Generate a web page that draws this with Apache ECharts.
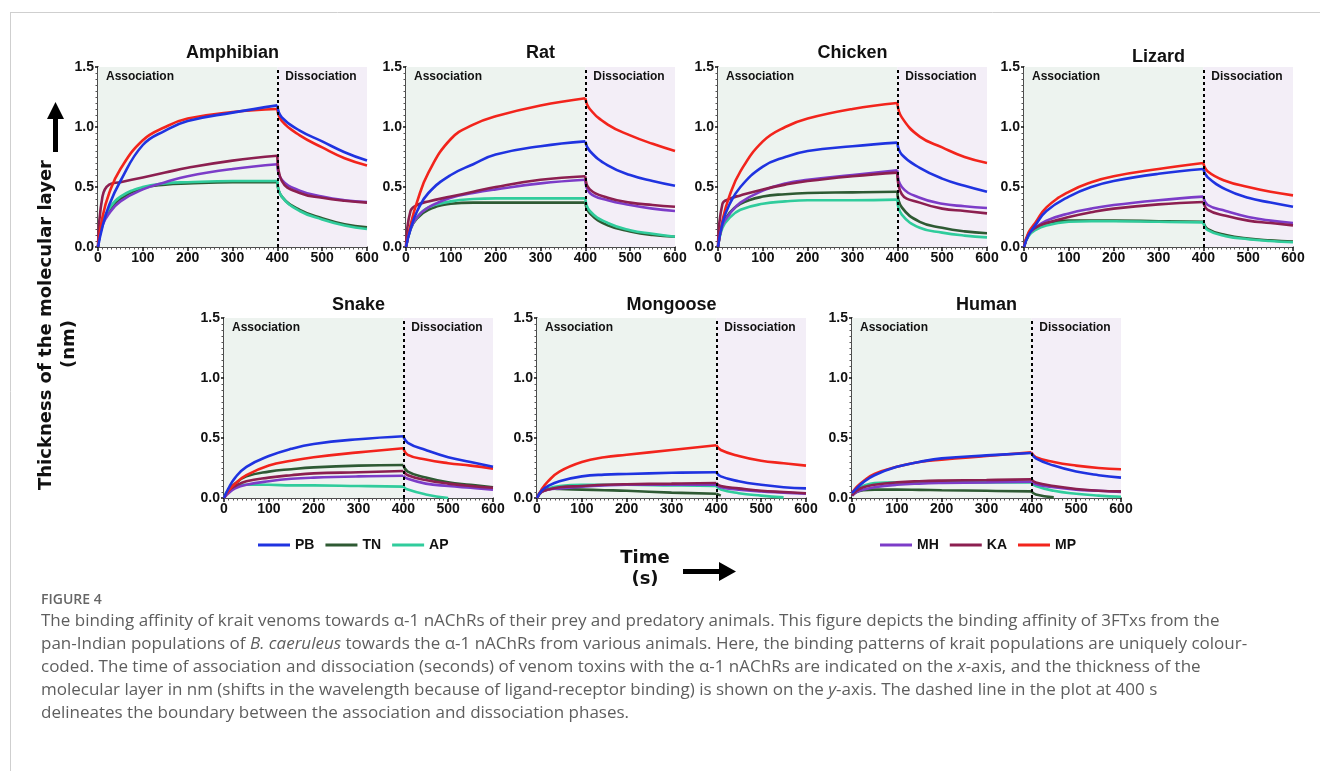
<!DOCTYPE html>
<html>
<head>
<meta charset="utf-8">
<script src="https://cdn.jsdelivr.net/npm/echarts@6/dist/echarts.min.js"></script>
<style>html,body{margin:0;padding:0;background:#fff;}#c{width:1320px;height:771px;}</style>
</head>
<body>
<div id="c"></div>
<script>
// ---------------- DATA ----------------
const TIME = [0, 10, 25, 50, 100, 150, 200, 300, 400, 410, 450, 500, 550, 600];
const KEYS = ['PB', 'TN', 'AP', 'MH', 'KA', 'MP'];
const PANEL_TITLES = ['Amphibian', 'Rat', 'Chicken', 'Lizard', 'Snake', 'Mongoose', 'Human'];
const X_TICKS = [0, 100, 200, 300, 400, 500, 600];
const Y_TICKS = [0, 0.5, 1.0, 1.5];
const PHASE_SPLIT = 400;

const amphibian = {
  PB: [0, 0.17, 0.35, 0.55, 0.85, 0.97, 1.05, 1.12, 1.18, 1.08, 0.97, 0.88, 0.79, 0.72],
  TN: [0, 0.20, 0.30, 0.40, 0.49, 0.52, 0.53, 0.54, 0.54, 0.42, 0.31, 0.24, 0.19, 0.165],
  AP: [0, 0.20, 0.32, 0.42, 0.50, 0.53, 0.54, 0.55, 0.55, 0.42, 0.30, 0.23, 0.18, 0.15],
  MH: [0, 0.18, 0.28, 0.38, 0.48, 0.54, 0.59, 0.65, 0.69, 0.56, 0.47, 0.42, 0.39, 0.375],
  KA: [0, 0.42, 0.52, 0.54, 0.58, 0.62, 0.66, 0.72, 0.76, 0.55, 0.45, 0.41, 0.385, 0.37],
  MP: [0, 0.25, 0.45, 0.65, 0.89, 1.00, 1.07, 1.125, 1.15, 1.05, 0.93, 0.83, 0.74, 0.68]
};
const rat = {
  PB: [0, 0.15, 0.30, 0.45, 0.60, 0.69, 0.77, 0.84, 0.88, 0.80, 0.68, 0.60, 0.55, 0.51],
  TN: [0, 0.15, 0.24, 0.31, 0.36, 0.37, 0.37, 0.37, 0.37, 0.28, 0.18, 0.13, 0.10, 0.085],
  AP: [0, 0.15, 0.25, 0.33, 0.38, 0.40, 0.405, 0.405, 0.405, 0.30, 0.20, 0.14, 0.11, 0.085],
  MH: [0, 0.15, 0.25, 0.33, 0.41, 0.45, 0.48, 0.53, 0.56, 0.45, 0.39, 0.35, 0.32, 0.30],
  KA: [0, 0.30, 0.35, 0.38, 0.42, 0.46, 0.50, 0.56, 0.59, 0.48, 0.41, 0.37, 0.35, 0.335],
  MP: [0, 0.18, 0.38, 0.62, 0.90, 1.02, 1.09, 1.18, 1.24, 1.15, 1.02, 0.93, 0.86, 0.80]
};
const chicken = {
  PB: [0, 0.20, 0.35, 0.50, 0.67, 0.75, 0.80, 0.84, 0.87, 0.77, 0.66, 0.57, 0.51, 0.46],
  TN: [0, 0.18, 0.28, 0.36, 0.42, 0.44, 0.45, 0.455, 0.46, 0.33, 0.21, 0.16, 0.13, 0.115],
  AP: [0, 0.16, 0.24, 0.31, 0.36, 0.38, 0.39, 0.39, 0.395, 0.27, 0.16, 0.12, 0.095, 0.08],
  MH: [0, 0.18, 0.27, 0.37, 0.47, 0.53, 0.56, 0.60, 0.64, 0.50, 0.41, 0.36, 0.34, 0.325],
  KA: [0, 0.36, 0.40, 0.43, 0.48, 0.52, 0.55, 0.59, 0.62, 0.44, 0.37, 0.32, 0.30, 0.28],
  MP: [0, 0.22, 0.42, 0.63, 0.88, 1.00, 1.07, 1.15, 1.20, 1.08, 0.92, 0.83, 0.75, 0.70]
};
const lizard = {
  PB: [0, 0.10, 0.18, 0.30, 0.42, 0.50, 0.55, 0.61, 0.65, 0.58, 0.48, 0.41, 0.37, 0.335],
  TN: [0, 0.10, 0.16, 0.20, 0.22, 0.22, 0.22, 0.215, 0.21, 0.15, 0.10, 0.07, 0.055, 0.045],
  AP: [0, 0.09, 0.14, 0.18, 0.21, 0.215, 0.215, 0.21, 0.205, 0.14, 0.09, 0.065, 0.05, 0.04],
  MH: [0, 0.10, 0.16, 0.22, 0.28, 0.32, 0.35, 0.39, 0.42, 0.35, 0.30, 0.25, 0.22, 0.20],
  KA: [0, 0.11, 0.16, 0.20, 0.25, 0.29, 0.32, 0.355, 0.375, 0.31, 0.26, 0.22, 0.20, 0.18],
  MP: [0, 0.12, 0.20, 0.33, 0.46, 0.54, 0.59, 0.65, 0.70, 0.63, 0.55, 0.50, 0.46, 0.43]
};
const snake = {
  PB: [0, 0.08, 0.17, 0.26, 0.35, 0.41, 0.45, 0.49, 0.515, 0.46, 0.40, 0.34, 0.30, 0.26],
  TN: [0, 0.06, 0.12, 0.18, 0.22, 0.24, 0.255, 0.27, 0.275, 0.22, 0.17, 0.13, 0.11, 0.09],
  AP: [0, 0.07, 0.10, 0.11, 0.11, 0.105, 0.105, 0.10, 0.095, 0.07, 0.03, 0.0, null, null],
  MH: [0, 0.04, 0.08, 0.11, 0.14, 0.16, 0.17, 0.18, 0.185, 0.16, 0.12, 0.10, 0.085, 0.07],
  KA: [0, 0.06, 0.10, 0.14, 0.17, 0.19, 0.205, 0.215, 0.225, 0.19, 0.15, 0.12, 0.10, 0.085],
  MP: [0, 0.06, 0.12, 0.19, 0.27, 0.31, 0.34, 0.38, 0.415, 0.36, 0.32, 0.29, 0.27, 0.245]
};
const mongoose = {
  PB: [0, 0.06, 0.10, 0.14, 0.18, 0.195, 0.20, 0.21, 0.215, 0.18, 0.14, 0.11, 0.09, 0.08],
  TN: [0, 0.06, 0.08, 0.075, 0.07, 0.065, 0.06, 0.045, 0.035, 0.02, null, null, null, null],
  AP: [0, 0.05, 0.08, 0.10, 0.11, 0.11, 0.11, 0.105, 0.10, 0.07, 0.04, 0.02, 0.005, null],
  MH: [0, 0.05, 0.07, 0.08, 0.095, 0.105, 0.11, 0.11, 0.11, 0.09, 0.07, 0.055, 0.045, 0.035],
  KA: [0, 0.05, 0.07, 0.09, 0.10, 0.11, 0.115, 0.12, 0.125, 0.10, 0.08, 0.06, 0.05, 0.04],
  MP: [0, 0.07, 0.14, 0.22, 0.30, 0.34, 0.36, 0.40, 0.44, 0.40, 0.35, 0.31, 0.29, 0.27]
};
const human = {
  PB: [0.04, 0.08, 0.13, 0.19, 0.26, 0.30, 0.33, 0.355, 0.375, 0.33, 0.27, 0.22, 0.19, 0.17],
  TN: [0.02, 0.05, 0.065, 0.07, 0.07, 0.068, 0.065, 0.06, 0.055, 0.03, 0.005, null, null, null],
  AP: [0.03, 0.07, 0.10, 0.125, 0.13, 0.13, 0.13, 0.13, 0.13, 0.10, 0.06, 0.035, 0.02, 0.01],
  MH: [0.02, 0.05, 0.07, 0.09, 0.11, 0.12, 0.125, 0.13, 0.135, 0.115, 0.09, 0.07, 0.06, 0.05],
  KA: [0.02, 0.06, 0.09, 0.11, 0.13, 0.14, 0.145, 0.15, 0.155, 0.13, 0.10, 0.075, 0.06, 0.055],
  MP: [0.04, 0.09, 0.14, 0.20, 0.26, 0.30, 0.32, 0.35, 0.38, 0.34, 0.30, 0.27, 0.25, 0.24]
};
const PANEL_DATA = [amphibian, rat, chicken, lizard, snake, mongoose, human];

const CAPTION_LABEL = 'FIGURE 4';
const CAPTION_LINES = [
  '{n|The binding affinity of krait venoms towards α-1 nAChRs of their prey and predatory animals. This figure depicts the binding affinity of 3FTxs from the}',
  '{n|pan-Indian populations of }{i|B. caeruleus}{n| towards the α-1 nAChRs from various animals. Here, the binding patterns of krait populations are uniquely colour-}',
  '{n|coded. The time of association and dissociation (seconds) of venom toxins with the α-1 nAChRs are indicated on the }{i|x}{n|-axis, and the thickness of the}',
  '{n|molecular layer in nm (shifts in the wavelength because of ligand-receptor binding) is shown on the }{i|y}{n|-axis. The dashed line in the plot at 400 s}',
  '{n|delineates the boundary between the association and dissociation phases.}'
];

// ---------------- STYLE / LAYOUT ----------------
const COLORS = { PB: '#1f33e0', TN: '#2e5a33', AP: '#30cc9c', MH: '#7c3cc8', KA: '#8c1f50', MP: '#f2241c' };
const DRAW_ORDER = ['TN', 'AP', 'MH', 'KA', 'MP', 'PB'];
const GRID_POS = [[98, 67], [406, 67], [718, 67], [1024, 67], [224, 318], [537, 318], [852, 318]];
const GRID_W = 269, GRID_H = 180;
const TITLE_Y = [53, 53, 53, 57, 305, 305, 305];
const FONT = '"Liberation Sans", Arial, sans-serif';
const AXT_FONT = 'bold 18px "DejaVu Sans", sans-serif';

const grids = [], xAxes = [], yAxes = [], series = [], graphics = [];

GRID_POS.forEach((p, i) => {
  grids.push({ left: p[0], top: p[1], width: GRID_W, height: GRID_H, containLabel: false });
  xAxes.push({
    gridIndex: i, type: 'value', min: X_TICKS[0], max: X_TICKS[X_TICKS.length - 1], interval: X_TICKS[1] - X_TICKS[0],
    axisLine: { show: true, onZero: false, lineStyle: { color: '#111', width: 1.5 } },
    axisTick: { show: true, length: 4, lineStyle: { color: '#111', width: 1.5 } },
    minorTick: { show: true, splitNumber: 10, length: 2.5, lineStyle: { color: '#555', width: 1 } },
    splitLine: { show: false }, minorSplitLine: { show: false },
    axisLabel: { fontWeight: 'bold', fontSize: 14, color: '#111', margin: 4, fontFamily: FONT }
  });
  yAxes.push({
    gridIndex: i, type: 'value', min: Y_TICKS[0], max: Y_TICKS[Y_TICKS.length - 1], interval: Y_TICKS[1] - Y_TICKS[0],
    axisLine: { show: true, onZero: false, lineStyle: { color: '#111', width: 1.5 } },
    axisTick: { show: true, length: 3, lineStyle: { color: '#111', width: 1.5 } },
    minorTick: { show: true, splitNumber: 10, length: 2.5, lineStyle: { color: '#555', width: 1 } },
    splitLine: { show: false }, minorSplitLine: { show: false },
    axisLabel: { fontWeight: 'bold', fontSize: 14, color: '#111', margin: 4, fontFamily: FONT, formatter: v => v.toFixed(1) }
  });

  const lbl = { show: true, position: 'insideTopLeft', distance: 5, offset: [3, -1], color: '#111', fontWeight: 'bold', fontSize: 12, fontFamily: FONT };
  series.push({
    type: 'line', name: 'bg' + i, xAxisIndex: i, yAxisIndex: i, data: [], silent: true, z: 1,
    markArea: {
      silent: true,
      label: lbl,
      data: [
        [{ name: 'Association', xAxis: X_TICKS[0], itemStyle: { color: '#edf3ef' } }, { xAxis: PHASE_SPLIT }],
        [{ name: 'Dissociation', xAxis: PHASE_SPLIT, itemStyle: { color: '#f3eef7' } }, { xAxis: X_TICKS[X_TICKS.length - 1] }]
      ]
    }
  });

  const pd = PANEL_DATA[i];
  DRAW_ORDER.forEach(k => {
    const vals = pd[k];
    const assoc = [], diss = [];
    TIME.forEach((t, j) => {
      if (vals[j] == null) return;
      if (t <= PHASE_SPLIT) assoc.push([t, vals[j]]);
      if (t >= PHASE_SPLIT) diss.push([t, vals[j]]);
    });
    [assoc, diss].forEach(d => {
      series.push({
        type: 'line', name: k, xAxisIndex: i, yAxisIndex: i, data: d, smooth: 0.45,
        showSymbol: false, symbol: 'none', silent: true, z: 3,
        lineStyle: { color: COLORS[k], width: 2.6 }, itemStyle: { color: COLORS[k] }
      });
    });
  });

  series.push({
    type: 'line', name: 'dash' + i, xAxisIndex: i, yAxisIndex: i, data: [], silent: true, z: 5,
    markLine: {
      silent: true, symbol: ['none', 'none'], animation: false,
      label: { show: false },
      lineStyle: { color: '#000', type: [3, 3], width: 2 },
      data: [{ xAxis: PHASE_SPLIT }]
    }
  });

  graphics.push({
    type: 'text', x: p[0] + GRID_W / 2, y: TITLE_Y[i],
    style: { text: PANEL_TITLES[i], font: 'bold 18px ' + FONT, fill: '#111', align: 'center', verticalAlign: 'middle' }
  });
});

// frame
graphics.push({ type: 'line', shape: { x1: 10, y1: 12.5, x2: 1320, y2: 12.5 }, style: { stroke: '#cfcfcf', lineWidth: 1 } });
graphics.push({ type: 'line', shape: { x1: 10.5, y1: 12, x2: 10.5, y2: 771 }, style: { stroke: '#cfcfcf', lineWidth: 1 } });

// y axis title + arrow
graphics.push({ type: 'text', x: 46, y: 325, rotation: Math.PI / 2,
  style: { text: 'Thickness of the molecular layer', font: AXT_FONT, fill: '#111', align: 'center', verticalAlign: 'middle' } });
graphics.push({ type: 'text', x: 69, y: 344, rotation: Math.PI / 2,
  style: { text: '(nm)', font: AXT_FONT, fill: '#111', align: 'center', verticalAlign: 'middle' } });
graphics.push({ type: 'polygon', shape: { points: [[53, 152], [58, 152], [58, 119], [64, 119], [55.5, 102], [47, 119], [53, 119]] }, style: { fill: '#000' } });

// x axis title + arrow
graphics.push({ type: 'text', x: 645, y: 558, style: { text: 'Time', font: AXT_FONT, fill: '#111', align: 'center', verticalAlign: 'middle' } });
graphics.push({ type: 'text', x: 645, y: 579, style: { text: '(s)', font: AXT_FONT, fill: '#111', align: 'center', verticalAlign: 'middle' } });
graphics.push({ type: 'polygon', shape: { points: [[683, 569], [719, 569], [719, 562], [736, 571.5], [719, 581], [719, 574], [683, 574]] }, style: { fill: '#000' } });

// caption
graphics.push({ type: 'text', x: 41, y: 600, style: { text: CAPTION_LABEL, font: '600 14px "Open Sans", sans-serif', fill: '#666', align: 'left', verticalAlign: 'middle' } });
const capRich = {
  n: { fontSize: 17, fontFamily: '"Open Sans", sans-serif', fill: '#5e5e5e', color: '#5e5e5e' },
  i: { fontSize: 17, fontFamily: '"Open Sans", sans-serif', fontStyle: 'italic', fill: '#5e5e5e', color: '#5e5e5e' }
};
CAPTION_LINES.forEach((ln, j) => {
  graphics.push({ type: 'text', x: 41, y: 621 + j * 23, style: { text: ln, rich: capRich, font: '17px "Open Sans", sans-serif', fill: '#5e5e5e', align: 'left', verticalAlign: 'middle' } });
});

const legendBase = {
  orient: 'horizontal', icon: 'rect', itemWidth: 32, itemHeight: 3, itemGap: 11, top: 533,
  textStyle: { fontWeight: 'bold', fontSize: 14, color: '#111', fontFamily: FONT }, selectedMode: false
};

const chart = echarts.init(document.getElementById('c'), null, { renderer: 'canvas' });
chart.setOption({
  backgroundColor: '#fff',
  animation: false,
  grid: grids, xAxis: xAxes, yAxis: yAxes,
  legend: [
    Object.assign({}, legendBase, { left: 253, data: ['PB', 'TN', 'AP'] }),
    Object.assign({}, legendBase, { left: 875, data: ['MH', 'KA', 'MP'] })
  ],
  series: series,
  graphic: graphics
});
</script>
</body>
</html>
